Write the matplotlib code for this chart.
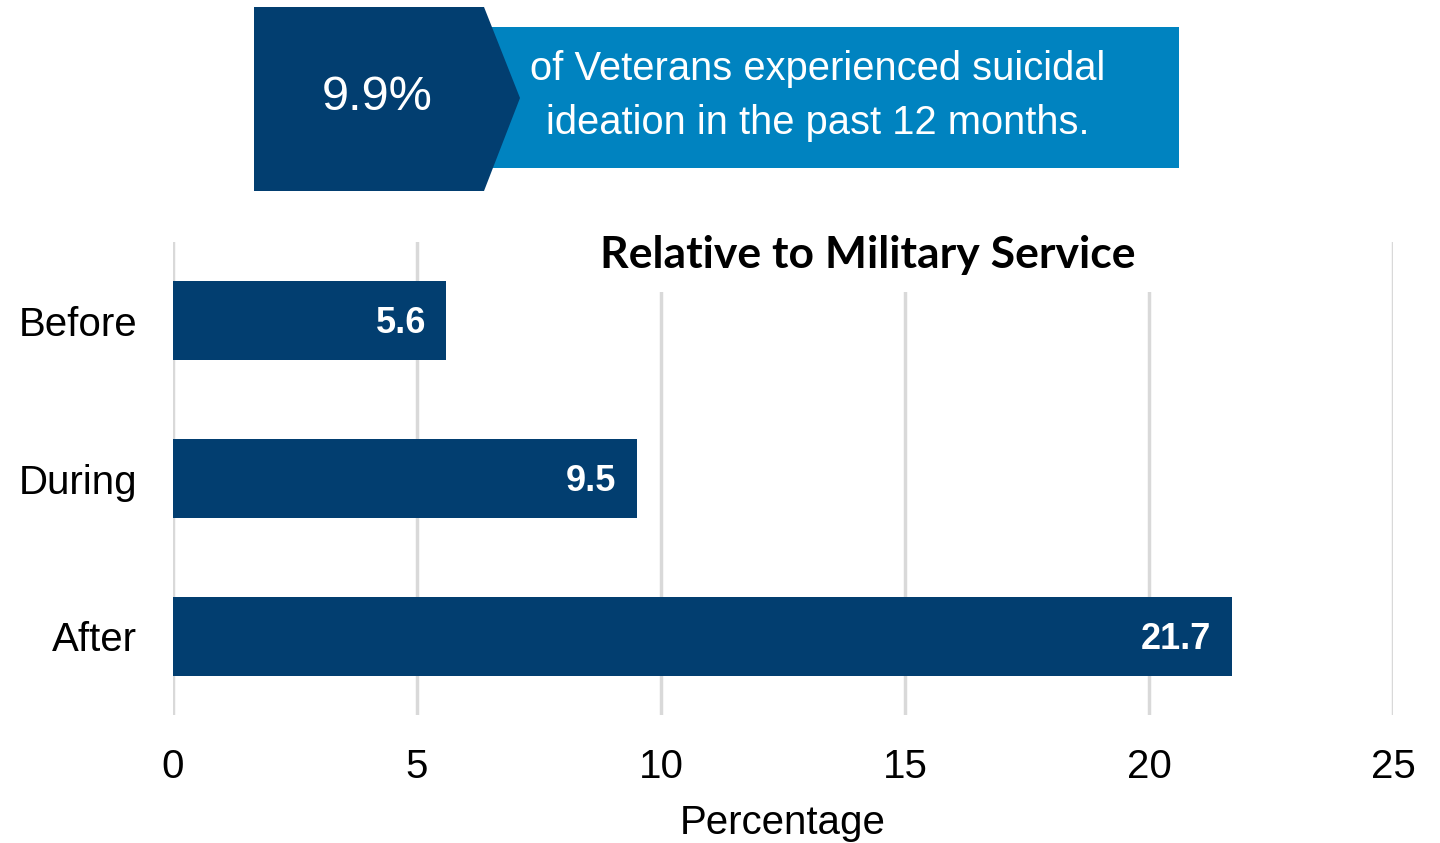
import matplotlib.pyplot as plt
from matplotlib.patches import Polygon, Rectangle

categories = ['Before', 'During', 'After']
values = [5.6, 9.5, 21.7]
xticks = [0, 5, 10, 15, 20, 25]
headline = '9.9%'
headline_text = 'of Veterans experienced suicidal\nideation in the past 12 months.'
title = 'Relative to Military Service'

navy = '#023e70'
light_blue = '#0083c0'
grid_gray = '#d9d9d9'

W, H = 1440, 843
fig = plt.figure(figsize=(W / 100, H / 100), dpi=100)
plt.rcParams['font.family'] = ['Liberation Sans', 'DejaVu Sans']


def px(x, y):
    # pixel position (from top-left) -> figure fraction
    return (x / W, 1 - y / H)


ax = fig.add_axes([173 / W, 1 - 715 / H, (1393 - 173) / W, (715 - 242) / H])

ypos = list(range(len(categories)))
ax.barh(ypos, values, height=0.5, color=navy, zorder=2)
for y, v in zip(ypos, values):
    ax.text(v - 0.42, y + 0.02, '%.1f' % v, ha='right', va='center', color='white',
            fontsize=26, fontweight='bold', zorder=3)

ax.set_xlim(0, 25)
ax.set_ylim(len(categories) - 0.5, -0.5)
ax.set_yticks(ypos)
ax.set_yticklabels(categories, fontsize=29)
ax.set_xticks(xticks)
ax.set_xticklabels([str(t) for t in xticks], fontsize=29)
ax.tick_params(axis='both', length=0)
ax.tick_params(axis='x', pad=24)
ax.tick_params(axis='y', pad=26)
for s in ax.spines.values():
    s.set_visible(False)
ax.grid(axis='x', color=grid_gray, linewidth=2.5, zorder=0)
ax.set_axisbelow(True)
ax.set_xlabel('Percentage', fontsize=29, labelpad=13)

# white box behind the chart title, hides the top of the gridlines
fig.patches.append(Rectangle(px(590, 292), (1160 - 590) / W, (292 - 222) / H,
                             transform=fig.transFigure, facecolor='white',
                             edgecolor='none', zorder=5))
fig.text(868 / W, 1 - 255 / H, title, ha='center', va='center', fontsize=32,
         fontweight='bold', family=['Lato', 'DejaVu Sans'], zorder=6)

# headline banner
fig.patches.append(Rectangle(px(480, 168), (1179 - 480) / W, (168 - 27) / H,
                             transform=fig.transFigure, facecolor=light_blue,
                             edgecolor='none', zorder=5))
fig.patches.append(Polygon([px(254, 7), px(484, 7), px(520, 98), px(484, 191), px(254, 191)],
                           closed=True, transform=fig.transFigure, facecolor=navy,
                           edgecolor='none', zorder=6))
fig.text(377 / W, 1 - 98 / H, headline, ha='center', va='center', color='white',
         fontsize=35, zorder=7)
fig.text(818 / W, 1 - 96 / H, headline_text, ha='center', va='center', color='white',
         fontsize=28.7, linespacing=1.56, zorder=7)

fig.savefig('out.png', dpi=100)
